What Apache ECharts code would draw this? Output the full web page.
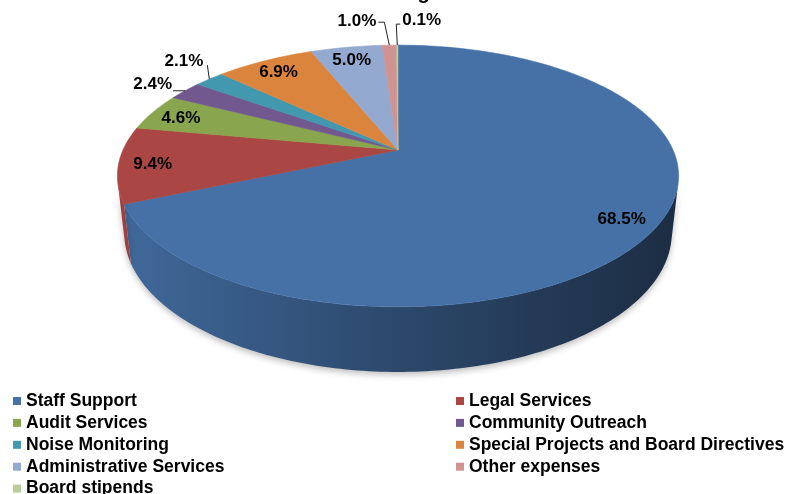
<!DOCTYPE html>
<html>
<head>
<meta charset="utf-8">
<title>Budget</title>
<script src="https://cdn.jsdelivr.net/npm/echarts@6/dist/echarts.min.js"></script>
<style>
  html, body { margin: 0; padding: 0; background: #fff; }
  #chart { width: 790px; height: 494px; }
</style>
</head>
<body>
<div id="chart"></div>
<script>
// slices, clockwise from 12 o'clock
const categories = [
  'Staff Support',
  'Legal Services',
  'Audit Services',
  'Community Outreach',
  'Noise Monitoring',
  'Special Projects and Board Directives',
  'Administrative Services',
  'Other expenses',
  'Board stipends'
];
const shares = [68.5, 9.4, 4.6, 2.4, 2.1, 6.9, 5.0, 1.0, 0.1];
const palette = ['#4571A7', '#AA4643', '#89A54E', '#71588F', '#4198AF',
                 '#DB843D', '#93A9CF', '#D09392', '#B9CD96'];

// small slices get their label outside, with a leader line
const outsideLabels = {
  'Community Outreach': { line: [[0, 0], [-12, 0]], text: [-13, -6, 'right'] },
  'Noise Monitoring': { line: [[0, 0], [-2, -14]], text: [-6, -18, 'right'] },
  'Other expenses': { line: [[0, 0], [-5, -23], [-11, -23]], text: [-13, -24, 'right'] },
  'Board stipends': { line: [[0, 0], [-1, -21], [3, -21]], text: [5, -25, 'left'] }
};

const total = shares.reduce((a, b) => a + b, 0);
const starts = [];
shares.reduce((acc, v, i) => { starts[i] = acc; return acc + v; }, 0);

// simple perspective camera looking down on a unit disc
const view = { cx: 398, cy: 150, f: 1232, dist: 4.48, tilt: 27.2 * Math.PI / 180, depth: 0.235 };
const cosT = Math.cos(view.tilt), sinT = Math.sin(view.tilt);

function project(x, y, z) {
  const d = view.dist - y * cosT - z * sinT;
  return [view.cx + x * view.f / d, view.cy + (y * sinT - z * cosT) * view.f / d];
}
// theta in degrees, clockwise from the back of the pie
function rim(theta, r, z) {
  const t = theta * Math.PI / 180;
  return project(r * Math.sin(t), -r * Math.cos(t), z);
}
function arc(from, to, r, z) {
  const n = Math.max(2, Math.ceil(Math.abs(to - from)));
  const pts = [];
  for (let k = 0; k <= n; k++) pts.push(rim(from + (to - from) * k / n, r, z));
  return pts;
}

// part of the outer wall that faces the camera
const wallFrom = Math.acos(-1 / (view.dist * cosT)) * 180 / Math.PI;
const wallTo = 360 - wallFrom;
const leftX = rim(270, 1, 0)[0] - 4, rightX = rim(90, 1, 0)[0] + 4;

function shade(hex, k) {
  const c = echarts.color.parse(hex);
  return 'rgb(' + [0, 1, 2].map(i => Math.round(c[i] * k)).join(',') + ')';
}

const labelFont = 'bold 17px "Liberation Sans", Arial, sans-serif';

function renderSlice(params, api) {
  const value = api.value(0), start = api.value(1);
  const name = categories[params.seriesIndex];
  const a0 = start / total * 360, a1 = (start + value) / total * 360;
  const color = api.visual('color');
  const children = [];

  const lo = Math.max(a0, wallFrom), hi = Math.min(a1, wallTo);
  if (hi > lo) {
    const pts = arc(lo, hi, 1, 0).concat(arc(hi, lo, 1, -view.depth));
    children.push({
      type: 'polygon',
      shape: { points: pts },
      style: {
        fill: new echarts.graphic.LinearGradient(leftX, 0, rightX, 0, [
          { offset: 0, color: shade(color, 0.93) },
          { offset: 0.5, color: shade(color, 0.64) },
          { offset: 1, color: shade(color, 0.4) }
        ], true),
        shadowBlur: 6,
        shadowOffsetY: 3,
        shadowColor: 'rgba(0,0,0,0.25)'
      }
    });
  }

  const top = [project(0, 0, 0)].concat(arc(a0, a1, 1, 0));
  children.push({
    type: 'polygon',
    shape: { points: top },
    style: { fill: color, stroke: color, lineWidth: 0.6 }
  });

  const text = value.toFixed(1) + '%';
  const out = outsideLabels[name];
  if (out) {
    const e = rim((a0 + a1) / 2, 1, 0);
    children.push({
      type: 'polyline',
      shape: { points: out.line.map(p => [e[0] + p[0], e[1] + p[1]]) },
      style: { stroke: '#222', lineWidth: 1, fill: null }
    });
    children.push({
      type: 'text',
      style: {
        text: text, x: e[0] + out.text[0], y: e[1] + out.text[1],
        font: labelFont, fill: '#000', align: out.text[2], verticalAlign: 'middle'
      }
    });
  } else {
    const p = rim((a0 + a1) / 2, 0.88, 0);
    children.push({
      type: 'text',
      style: {
        text: text, x: p[0], y: p[1] + 2,
        font: labelFont, fill: '#000', align: 'center', verticalAlign: 'middle'
      }
    });
  }
  return { type: 'group', children: children };
}

const chart = echarts.init(document.getElementById('chart'));

const legendBase = {
  orient: 'vertical',
  top: 392,
  height: 140,
  padding: 0,
  icon: 'rect',
  itemWidth: 8,
  itemHeight: 8,
  itemGap: 3.9,
  selectedMode: false,
  textStyle: {
    fontFamily: '"Liberation Sans", Arial, sans-serif',
    fontSize: 17.5,
    fontWeight: 'bold',
    color: '#000',
    lineHeight: 17
  }
};

chart.setOption({
  animation: false,
  backgroundColor: '#fff',
  graphic: [{
    type: 'text',
    x: 413,
    y: -6.5,
    style: {
      text: 'Budget',
      font: 'bold 20px "Liberation Sans", Arial, sans-serif',
      fill: '#000',
      align: 'center',
      verticalAlign: 'middle'
    }
  }],
  legend: [
    Object.assign({}, legendBase, { left: 13, data: categories.filter((c, i) => i % 2 === 0) }),
    Object.assign({}, legendBase, { left: 456, data: categories.filter((c, i) => i % 2 === 1) })
  ],
  series: categories.map((name, i) => ({
    type: 'custom',
    name: name,
    coordinateSystem: 'none',
    itemStyle: { color: palette[i] },
    renderItem: renderSlice,
    data: [[shares[i], starts[i]]]
  }))
});
</script>
</body>
</html>
